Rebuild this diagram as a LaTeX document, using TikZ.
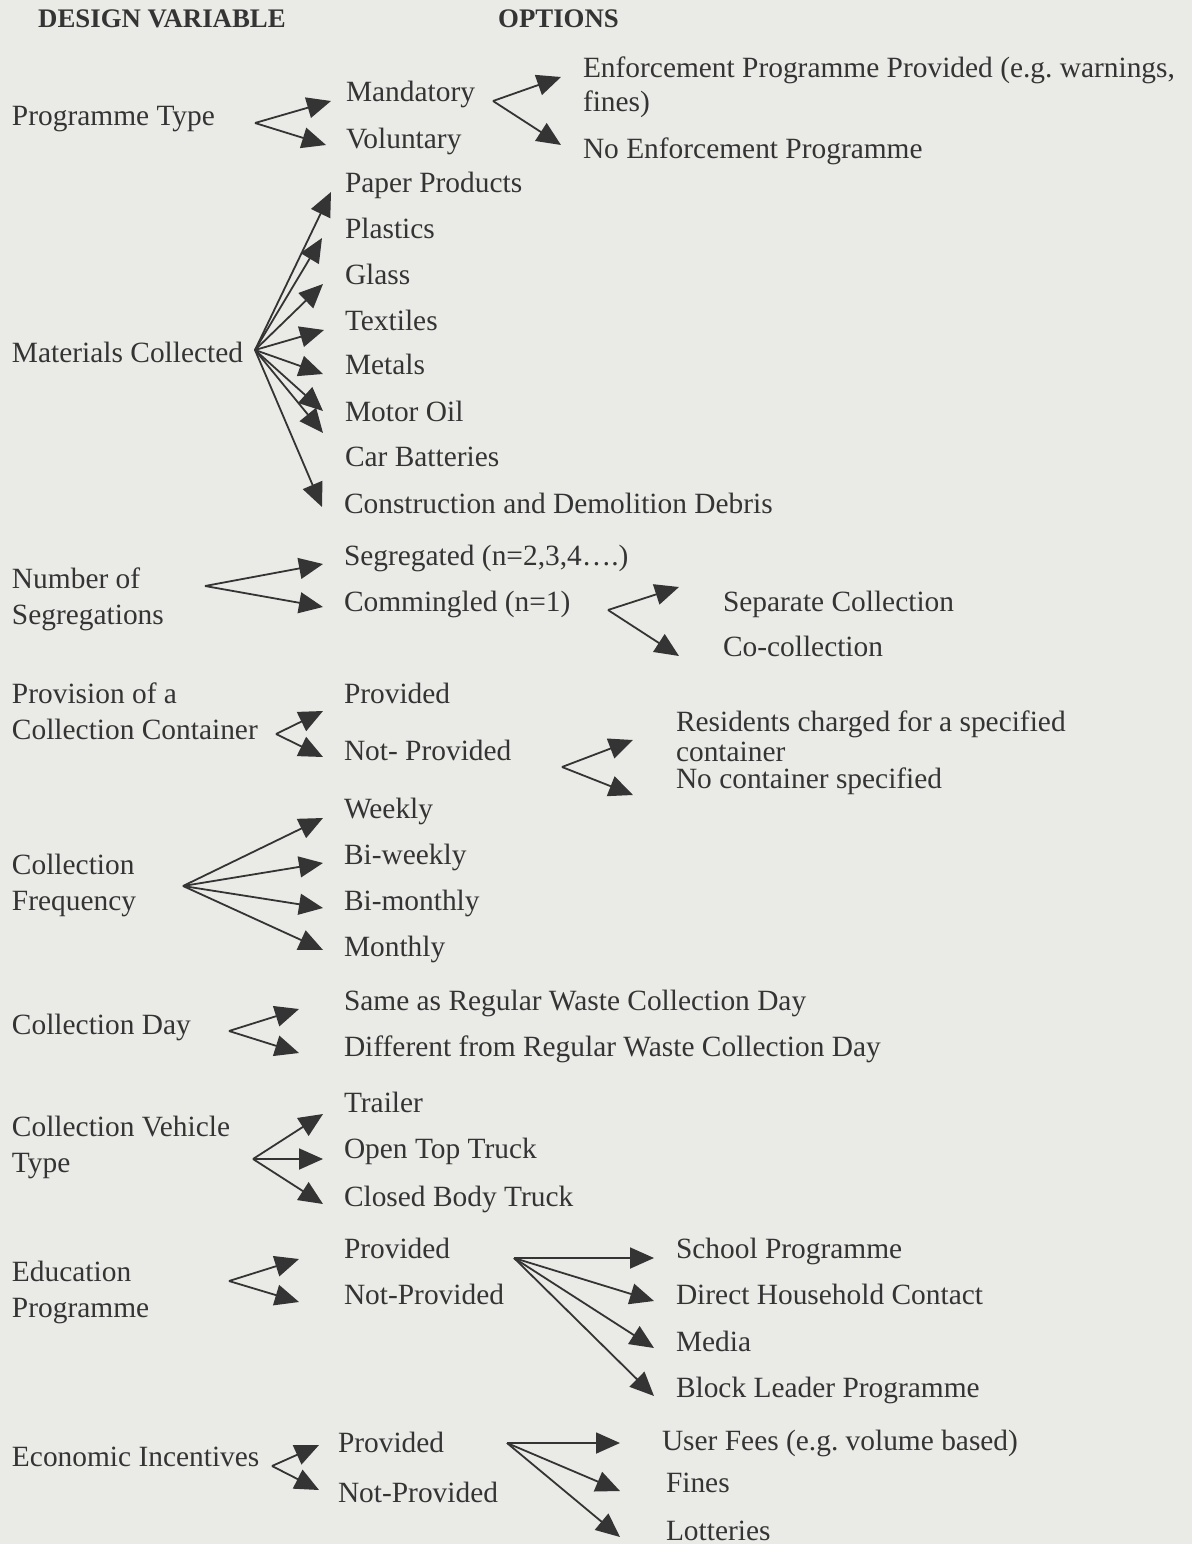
\documentclass[tikz,border=0pt]{standalone}
\usepackage{fontspec}
\setmainfont{Liberation Serif}
\usetikzlibrary{arrows.meta}
\definecolor{paper}{RGB}{234,234,231}
\definecolor{ink}{RGB}{52,52,52}
\begin{document}
\frenchspacing
\begin{tikzpicture}[x=1pt,y=-1pt,
  lbl/.style={anchor=base west, inner sep=0pt, outer sep=0pt, text=ink,
    font=\fontsize{29.4}{36}\selectfont},
  twoline/.style={lbl, align=flush left, text width=#1},
  hdr/.style={anchor=base west, inner sep=0pt, text=ink,
    font=\fontsize{26.8}{30}\selectfont\bfseries},
  arr/.style={draw=ink, line width=1.8pt, line join=miter,
    -{Triangle[length=24pt,width=21pt]}},
]
\fill[paper] (0,0) rectangle (1192,1544);
\useasboundingbox (0,0) rectangle (1192,1544);

% column headings
\node[hdr] (hvar) at (38,28) {DESIGN VARIABLE};
\node[hdr] (hopt) at (498,28) {OPTIONS};

% ---- Programme type
\node[lbl] (ptype) at (12,126) {Programme Type};
\node[lbl] (mand) at (346,102) {Mandatory};
\node[lbl] (volu) at (346,148) {Voluntary};
\node[twoline=640pt, font=\fontsize{29.4}{34}\selectfont] (enf) at (583,78)
  {Enforcement Programme Provided (e.g. warnings,\\fines)};
\node[lbl] (noenf) at (583,158) {No Enforcement Programme};
\coordinate (vA) at (255,123);
\coordinate (tA1) at (331,101);
\coordinate (tA2) at (326,145);
\draw[arr] (vA) -- (tA1);
\draw[arr] (vA) -- (tA2);
\coordinate (vB) at (493,101);
\coordinate (tB1) at (561,77);
\coordinate (tB2) at (561,145);
\draw[arr] (vB) -- (tB1);
\draw[arr] (vB) -- (tB2);

% ---- Materials collected
\node[lbl] (mat) at (12,362) {Materials Collected};
\node[lbl] (m1) at (345,192) {Paper Products};
\node[lbl] (m2) at (345,238) {Plastics};
\node[lbl] (m3) at (345,284) {Glass};
\node[lbl] (m4) at (345,330) {Textiles};
\node[lbl] (m5) at (345,374) {Metals};
\node[lbl] (m6) at (345,421) {Motor Oil};
\node[lbl] (m7) at (345,466) {Car Batteries};
\node[lbl] (m8) at (344,513) {Construction and Demolition Debris};
\coordinate (vM) at (255,350);
\coordinate (tM1) at (331,192);
\coordinate (tM2) at (322,238);
\coordinate (tM3) at (323,284);
\coordinate (tM4) at (324,330);
\coordinate (tM5) at (323,374);
\coordinate (tM6) at (323,411);
\coordinate (tM7) at (323,433);
\coordinate (tM8) at (322,507);
\foreach \t in {tM1,tM2,tM3,tM4,tM5,tM6,tM7,tM8}
  \draw[arr] (vM) -- (\t);

% ---- Number of segregations
\node[twoline=300pt] (nseg) at (12,588) {Number of\\Segregations};
\node[lbl] (segr) at (344,565) {Segregated (n=2,3,4….)};
\node[lbl] (comm) at (344,611) {Commingled (n=1)};
\node[lbl] (sepc) at (723,611) {Separate Collection};
\node[lbl] (coc) at (723,656) {Co-collection};
\coordinate (vN) at (205,586);
\coordinate (tN1) at (323,564);
\coordinate (tN2) at (323,607);
\draw[arr] (vN) -- (tN1);
\draw[arr] (vN) -- (tN2);
\coordinate (vC) at (608,610);
\coordinate (tC1) at (679,587);
\coordinate (tC2) at (679,656);
\draw[arr] (vC) -- (tC1);
\draw[arr] (vC) -- (tC2);

% ---- Collection container
\node[twoline=320pt] (prov) at (12,703) {Provision of a\\Collection Container};
\node[lbl] (cprov) at (344,703) {Provided};
\node[lbl] (cnot) at (344,760) {Not- Provided};
\node[twoline=500pt, font=\fontsize{29.4}{30}\selectfont] (resid) at (676,731)
  {Residents charged for a specified\\container};
\node[lbl] (nocont) at (676,788) {No container specified};
\coordinate (vP) at (276,734);
\coordinate (tP1) at (323,711);
\coordinate (tP2) at (323,757);
\draw[arr] (vP) -- (tP1);
\draw[arr] (vP) -- (tP2);
\coordinate (vR) at (562,767);
\coordinate (tR1) at (633,740);
\coordinate (tR2) at (633,795);
\draw[arr] (vR) -- (tR1);
\draw[arr] (vR) -- (tR2);

% ---- Collection frequency
\node[twoline=300pt] (freq) at (12,874) {Collection\\Frequency};
\node[lbl] (f1) at (344,818) {Weekly};
\node[lbl] (f2) at (344,864) {Bi-weekly};
\node[lbl] (f3) at (344,910) {Bi-monthly};
\node[lbl] (f4) at (344,956) {Monthly};
\coordinate (vF) at (183,886);
\coordinate (tF1) at (323,818);
\coordinate (tF2) at (323,863);
\coordinate (tF3) at (323,908);
\coordinate (tF4) at (323,950);
\foreach \t in {tF1,tF2,tF3,tF4}
  \draw[arr] (vF) -- (\t);

% ---- Collection day
\node[lbl] (cday) at (12,1034) {Collection Day};
\node[lbl] (d1) at (344,1010) {Same as Regular Waste Collection Day};
\node[lbl] (d2) at (344,1056) {Different from Regular Waste Collection Day};
\coordinate (vD) at (229,1031);
\coordinate (tD1) at (299,1009);
\coordinate (tD2) at (299,1053);
\draw[arr] (vD) -- (tD1);
\draw[arr] (vD) -- (tD2);

% ---- Collection vehicle type
\node[twoline=300pt] (veh) at (12,1136) {Collection Vehicle\\Type};
\node[lbl] (v1) at (344,1112) {Trailer};
\node[lbl] (v2) at (344,1158) {Open Top Truck};
\node[lbl] (v3) at (344,1206) {Closed Body Truck};
\coordinate (vV) at (253,1159);
\coordinate (tV1) at (323,1114);
\coordinate (tV2) at (323,1159);
\coordinate (tV3) at (323,1204);
\foreach \t in {tV1,tV2,tV3}
  \draw[arr] (vV) -- (\t);

% ---- Education programme
\node[twoline=300pt] (edu) at (12,1281) {Education\\Programme};
\node[lbl] (eprov) at (344,1258) {Provided};
\node[lbl] (enot) at (344,1304) {Not-Provided};
\node[lbl] (e1) at (676,1258) {School Programme};
\node[lbl] (e2) at (676,1304) {Direct Household Contact};
\node[lbl] (e3) at (676,1351) {Media};
\node[lbl] (e4) at (676,1397) {Block Leader Programme};
\coordinate (vE) at (229,1281);
\coordinate (tE1) at (299,1259);
\coordinate (tE2) at (299,1302);
\draw[arr] (vE) -- (tE1);
\draw[arr] (vE) -- (tE2);
\coordinate (vS) at (514,1258);
\coordinate (tS1) at (654,1258);
\coordinate (tS2) at (654,1301);
\coordinate (tS3) at (654,1348);
\coordinate (tS4) at (654,1396);
\foreach \t in {tS1,tS2,tS3,tS4}
  \draw[arr] (vS) -- (\t);

% ---- Economic incentives
\node[lbl] (econ) at (12,1466) {Economic Incentives};
\node[lbl] (iprov) at (338,1452) {Provided};
\node[lbl] (inot) at (338,1502) {Not-Provided};
\node[lbl] (i1) at (662,1450) {User Fees (e.g. volume based)};
\node[lbl] (i2) at (666,1492) {Fines};
\node[lbl] (i3) at (666,1540) {Lotteries};
\coordinate (vI) at (272,1466);
\coordinate (tI1) at (319,1445);
\coordinate (tI2) at (319,1490);
\draw[arr] (vI) -- (tI1);
\draw[arr] (vI) -- (tI2);
\coordinate (vU) at (507,1443);
\coordinate (tU1) at (620,1443);
\coordinate (tU2) at (620,1491);
\coordinate (tU3) at (620,1537);
\foreach \t in {tU1,tU2,tU3}
  \draw[arr] (vU) -- (\t);
\end{tikzpicture}
\end{document}
